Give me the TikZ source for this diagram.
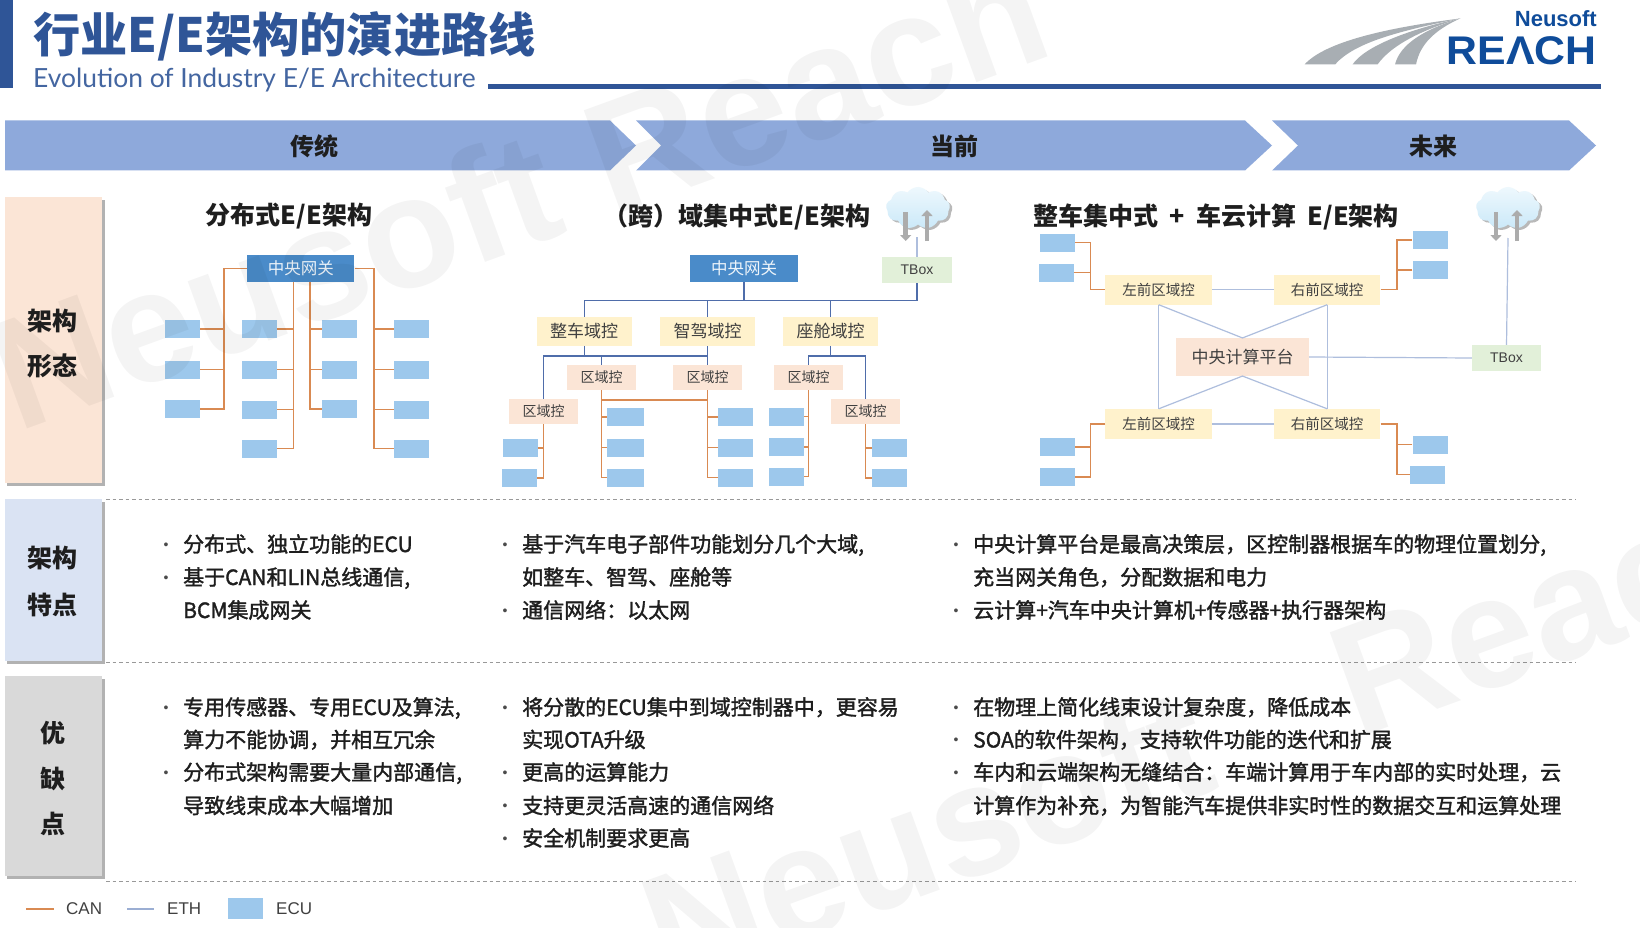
\documentclass[tikz,border=0pt]{standalone}
\usepackage{fontspec}
\usetikzlibrary{shapes.symbols,shadows,arrows.meta,calc}
\setmainfont{Noto Sans CJK SC}
\newfontfamily\bodyf[FakeBold=1.6]{Noto Sans CJK SC}
\newfontfamily\arialf{Liberation Sans}
\newfontfamily\latof{Lato}
\definecolor{navy}{HTML}{2F5597}
\definecolor{barblue}{HTML}{8EA9DB}
\definecolor{gwblue}{HTML}{4A8BC9}
\definecolor{ecublue}{HTML}{9DC8EC}
\definecolor{canc}{HTML}{D98A52}
\definecolor{ethd}{HTML}{4F6DAA}
\definecolor{ethl}{HTML}{AEBEDD}
\definecolor{domy}{HTML}{FFF2CC}
\definecolor{zonep}{HTML}{FBE5D6}
\definecolor{rowblue}{HTML}{DAE3F3}
\definecolor{tboxg}{HTML}{E2F0D9}
\definecolor{ink}{HTML}{1E1E1E}
\definecolor{logogray}{HTML}{A8AEB3}
\definecolor{logoblue}{HTML}{0F4C9A}
\definecolor{cloudc}{HTML}{CBE9F9}
\definecolor{cloudt}{HTML}{EEF8FD}
\newcommand\fs[1]{\fontsize{#1}{#1}\selectfont}
\tikzset{
  ecubox/.style={fill=ecublue,draw=none,minimum width=35,minimum height=18,inner sep=0},
  gwbox/.style={fill=gwblue,text=white!90!gwblue,minimum width=107,minimum height=26.5,inner sep=0,font=\fs{16.5}},
  dombox/.style={fill=domy,text=ink!85,minimum width=95,minimum height=28.7,inner sep=0,font=\fs{17}},
  zonebox/.style={fill=zonep,text=ink!85,minimum width=69,minimum height=25,inner sep=0,font=\fs{14}},
  lzbox/.style={fill=domy,text=ink!85,minimum width=106.5,minimum height=30,inner sep=0,font=\fs{14.5}},
  cpbox/.style={fill=zonep,text=ink!85,minimum width=133,minimum height=37.7,inner sep=0,font=\fs{17}},
  tboxn/.style={fill=tboxg,text=ink!85,minimum width=70,minimum height=26,inner sep=0,font=\arialf\fs{14}},
  can/.style={draw=canc,line width=1.5pt},
  ethdk/.style={draw=ethd,line width=1.4pt},
  ethlt/.style={draw=ethl,line width=1.2pt},
  rowbox/.style={minimum width=97.5,inner sep=0,drop shadow={shadow xshift=2.5pt,shadow yshift=-3pt,fill=gray,opacity=.6}},
  rowtxt/.style={text=ink,inner sep=0,font=\bfseries\fs{25}},
  coltitle/.style={text=ink,inner sep=0,font=\bfseries\fs{25}},
  phase/.style={text=ink,inner sep=0,font=\bfseries\fs{24}},
  bodytxt/.style={anchor=west,inner sep=0,text=ink,text height=17pt,text depth=5pt,font=\bodyf\fs{21}},
  dottxt/.style={inner sep=0,text=ink!80,font=\arialf\fs{14}},
  sep/.style={draw=gray!80,line width=1pt,dash pattern=on 3.5pt off 3pt},
  legtxt/.style={anchor=west,inner sep=0,text=ink!85,font=\arialf\fs{17}},
  cloudn/.style={cloud,cloud puffs=9,cloud puff arc=110,aspect=1.5,minimum width=64,minimum height=42,inner sep=0,draw=none,top color=cloudt,bottom color=cloudc,
     drop shadow={shadow xshift=2.5pt,shadow yshift=-2pt,fill=gray,opacity=.55}},
  cloudar/.style={draw=gray!65,line width=4.5pt,-{Triangle[length=6pt,width=11pt]}},
  wmtxt/.style={text=black,text opacity=.045,inner sep=0,font=\arialf\bfseries\fs{158}},
}
\newcommand\ecu[3]{\node[ecubox] (#1) at (#2,#3) {};}
\newcommand\bdot[3]{\node[dottxt] (#1) at (#2,#3) {•};}
\newcommand\bline[4]{\node[bodytxt] (#1) at (#2,#3) {#4};}
\begin{document}
\begin{tikzpicture}[x=1pt,y=-1pt]
\useasboundingbox (0,0) rectangle (1640,928);
\clip (0,0) rectangle (1640,928);
\fill[white] (0,0) rectangle (1640,928);
% header
\fill[navy] (0,0) rectangle (13,88);
\node[anchor=west,inner sep=0,text=navy,font=\bfseries\fs{47.2}] (title) at (33,36) {行业E/E架构的演进路线};
\node[anchor=west,inner sep=0,text=navy!90,font=\latof\fs{26.4}] (subtitle) at (33,80) {Evolution of Industry E/E Architecture};
\fill[navy] (488,84) rectangle (1601,89);
% logo
\fill[logogray] (1304.5,64.5) .. controls (1325,42) and (1385,28) .. (1460,18.5) .. controls (1400,31) and (1355,42) .. (1335,64.5) -- cycle;
\fill[logogray] (1352.5,64.5) .. controls (1365,46) and (1410,29) .. (1460,18.5) .. controls (1425,29) and (1392,44) .. (1377.5,64.5) -- cycle;
\fill[logogray] (1395,64.5) .. controls (1400,44) and (1425,29) .. (1460,18.5) .. controls (1435,30) and (1420,44) .. (1416,64.5) -- cycle;
\node[anchor=east,inner sep=0,text=logoblue,font=\arialf\bfseries\fs{22}] (neusoft) at (1597,19) {Neusoft};
\node[anchor=east,inner sep=0,text=logoblue,xscale=1.07,font=\arialf\bfseries\fs{40}] (reach) at (1597,51) {REΛCH};
% phase arrows
\fill[barblue] (5,120.5) -- (610,120.5) -- (636,145.5) -- (610,170.5) -- (5,170.5) -- cycle;
\fill[barblue] (636,120.5) -- (1245,120.5) -- (1272,145.5) -- (1245,170.5) -- (636,170.5) -- (661,145.5) -- cycle;
\fill[barblue] (1272,120.5) -- (1569,120.5) -- (1596,145.5) -- (1569,170.5) -- (1272,170.5) -- (1298,145.5) -- cycle;
\node[phase] (ph1) at (314,146) {传统};
\node[phase] (ph2) at (954,146) {当前};
\node[phase] (ph3) at (1433,146) {未来};
% row labels
\node[rowbox,fill=zonep,minimum height=285.5] (r1) at (53.7,340.2) {};
\node[rowbox,fill=rowblue,minimum height=162] (r2) at (53.7,580) {};
\node[rowbox,fill=gray!30,minimum height=200] (r3) at (53.7,776) {};
\node[rowtxt] (r1a) at (52.5,321) {架构};
\node[rowtxt] (r1b) at (52.5,366) {形态};
\node[rowtxt] (r2a) at (52.5,558.5) {架构};
\node[rowtxt] (r2b) at (52.5,604.5) {特点};
\node[rowtxt] (r3a) at (52.5,733) {优};
\node[rowtxt] (r3b) at (52.5,779) {缺};
\node[rowtxt] (r3c) at (52.5,824) {点};
% separators
\coordinate (s1a) at (106,499.5); \coordinate (s1b) at (1576,499.5);
\coordinate (s2a) at (106,662.5); \coordinate (s2b) at (1576,662.5);
\coordinate (s3a) at (106,881.5); \coordinate (s3b) at (1576,881.5);
\draw[sep] (s1a) -- (s1b); \draw[sep] (s2a) -- (s2b); \draw[sep] (s3a) -- (s3b);
% column titles
\node[coltitle] (t1) at (289,216.5) {分布式E/E架构};
\node[coltitle] (t2) at (737,216.5) {（跨）域集中式E/E架构};
\node[coltitle] (t3) at (1216,216.5) {整车集中式\ \ +\ \ 车云计算\ \ E/E架构};
% ---------- diagram 1
\node[gwbox] (g1) at (300.8,268.7) {中央网关};
\ecu{a1}{182.5}{329}\ecu{a2}{182.5}{369.5}\ecu{a3}{182.5}{409}
\ecu{b1}{259.5}{329}\ecu{b2}{259.5}{369.5}\ecu{b3}{259.5}{409.5}\ecu{b4}{259.5}{448.5}
\ecu{c1}{339.5}{329}\ecu{c2}{339.5}{369.5}\ecu{c3}{339.5}{409}
\ecu{d1}{411.5}{329}\ecu{d2}{411.5}{369.5}\ecu{d3}{411.5}{409.5}\ecu{d4}{411.5}{448.5}
\coordinate (bA) at (224,0); \coordinate (bB) at (293.3,0); \coordinate (bC) at (310,0); \coordinate (bD) at (374,0);
\draw[can] (g1.west) -- (g1.west -| bA) -- (a3.east -| bA) -- (a3.east);
\draw[can] (a1.east) -- (a1.east -| bA); \draw[can] (a2.east) -- (a2.east -| bA);
\draw[can] (g1.south -| bB) -- (b4.east -| bB) -- (b4.east);
\draw[can] (b1.east) -- (b1.east -| bB); \draw[can] (b2.east) -- (b2.east -| bB); \draw[can] (b3.east) -- (b3.east -| bB);
\draw[can] (g1.south -| bC) -- (c3.west -| bC) -- (c3.west);
\draw[can] (c1.west) -- (c1.west -| bC); \draw[can] (c2.west) -- (c2.west -| bC);
\draw[can] (g1.east) -- (g1.east -| bD) -- (d4.west -| bD) -- (d4.west);
\draw[can] (d1.west) -- (d1.west -| bD); \draw[can] (d2.west) -- (d2.west -| bD); \draw[can] (d3.west) -- (d3.west -| bD);
% ---------- diagram 2
\node[gwbox,minimum width=108,minimum height=27] (g2) at (744,268.2) {中央网关};
\node[tboxn] (tb2) at (917,270) {TBox};
\node[cloudn] (cl2) at (918,208) {};
\coordinate (c2f) at (917,237);
\draw[cloudar] (905.7,212) -- (905.7,241);
\draw[cloudar] (927,241) -- (927,210);
\node[dombox] (dm1) at (584.2,331.3) {整车域控};
\node[dombox] (dm2) at (707.5,331.3) {智驾域控};
\node[dombox] (dm3) at (830.5,331.3) {座舱域控};
\node[zonebox] (z1) at (543.5,411.5) {区域控};
\node[zonebox] (z2) at (601.5,377.5) {区域控};
\node[zonebox] (z3) at (707.5,377.5) {区域控};
\node[zonebox] (z4) at (808.5,377.5) {区域控};
\node[zonebox] (z5) at (865.5,411.5) {区域控};
\ecu{e1a}{520.2}{448}\ecu{e1b}{519.2}{478}
\node[ecubox,minimum width=37] (e2a) at (625.5,417) {};
\node[ecubox,minimum width=37] (e2b) at (625.5,447.5) {};
\node[ecubox,minimum width=37] (e2c) at (625.5,477.5) {};
\ecu{e3a}{735.2}{417}\ecu{e3b}{735.2}{447.5}\ecu{e3c}{735.2}{477.5}
\ecu{e4a}{786.4}{416.5}\ecu{e4b}{786.4}{447}\ecu{e4c}{786.4}{476.5}
\ecu{e5a}{889.3}{448}\ecu{e5b}{889.3}{478}
\coordinate (y1) at (0,300.3); \coordinate (y2) at (0,356); \coordinate (y3) at (0,400);
\draw[ethl,line width=1.2pt] (tb2.north) -- (c2f);
\draw[ethdk] (dm1.north) -- (dm1.north |- y1) -- (tb2.south |- y1) -- (tb2.south);
\draw[ethdk] (g2.south) -- (g2.south |- y1);
\draw[ethdk] (dm2.north) -- (dm2.north |- y1);
\draw[ethdk] (dm3.north) -- (dm3.north |- y1);
\draw[ethdk] (z1.north) -- (z1.north |- y2) -- (dm2.south |- y2) -- (dm2.south);
\draw[ethdk] (dm1.south) -- (dm1.south |- y2);
\draw[ethdk] (z2.north) -- (z2.north |- y2);
\draw[ethdk] (z3.north) -- (z3.north |- y2);
\draw[ethdk] (z4.north) -- (z4.north |- y2) -- (z5.north |- y2) -- (z5.north);
\draw[ethdk] (dm3.south) -- (dm3.south |- y2);
\draw[can] (z1.south) -- (z1.south |- e1b.east) -- (e1b.east);
\draw[can] (e1a.east) -- (e1a.east -| z1.south);
\draw[can] (z2.south) -- (z2.south |- e2c.west) -- (e2c.west);
\draw[can] (e2a.west) -- (e2a.west -| z2.south); \draw[can] (e2b.west) -- (e2b.west -| z2.south);
\draw[can] (z2.south |- y3) -- (z3.south |- y3);
\draw[can] (z3.south) -- (z3.south |- e3c.west) -- (e3c.west);
\draw[can] (e3a.west) -- (e3a.west -| z3.south); \draw[can] (e3b.west) -- (e3b.west -| z3.south);
\draw[can] (z4.south) -- (z4.south |- e4c.east) -- (e4c.east);
\draw[can] (e4a.east) -- (e4a.east -| z4.south); \draw[can] (e4b.east) -- (e4b.east -| z4.south);
\draw[can] (z5.south) -- (z5.south |- e5b.west) -- (e5b.west);
\draw[can] (e5a.west) -- (e5a.west -| z5.south);
% ---------- diagram 3
\node[lzbox] (tl) at (1158.7,289.5) {左前区域控};
\node[lzbox] (tr) at (1327.2,289.5) {右前区域控};
\node[lzbox] (bl) at (1158.7,424) {左前区域控};
\node[lzbox] (br) at (1327.2,424) {右前区域控};
\node[cpbox] (cp) at (1242.5,357) {中央计算平台};
\node[tboxn,minimum width=69] (tb3) at (1506.5,358) {TBox};
\node[cloudn] (cl3) at (1508,208) {};
\coordinate (c3f) at (1508,238);
\draw[cloudar] (1496,212) -- (1496,241);
\draw[cloudar] (1517,241) -- (1517,210);
\ecu{f1}{1057.4}{242.5}\ecu{f2}{1056}{272.5}
\ecu{f3}{1430}{240}\ecu{f4}{1430}{270}
\ecu{f5}{1057.4}{447}\ecu{f6}{1057.4}{477}
\ecu{f7}{1430}{444.5}\ecu{f8}{1427.5}{474.5}
\coordinate (xL) at (1090.7,0); \coordinate (xR) at (1397,0);
\draw[ethl,line width=1.2pt] (tb3.north) -- (c3f);
\draw[ethlt] (tl.east) -- (tr.west);
\draw[ethlt] (bl.east) -- (br.west);
\draw[ethlt] (tl.south) -- (bl.north);
\draw[ethlt] (tr.south) -- (br.north);
\draw[ethlt] (tl.south) -- (cp.north) -- (tr.south);
\draw[ethlt] (bl.north) -- (cp.south) -- (br.north);
\draw[ethlt] (cp.east) -- (tb3.west);
\draw[can] (f1.east) -- (f1.east -| xL) -- (tl.west -| xL) -- (tl.west);
\draw[can] (f2.east) -- (f2.east -| xL);
\draw[can] (tr.east) -- (tr.east -| xR) -- (f3.west -| xR) -- (f3.west);
\draw[can] (f4.west) -- (f4.west -| xR);
\draw[can] (bl.west) -- (bl.west -| xL) -- (f6.east -| xL) -- (f6.east);
\draw[can] (f5.east) -- (f5.east -| xL);
\draw[can] (br.east) -- (br.east -| xR) -- (f8.west -| xR) -- (f8.west);
\draw[can] (f7.west) -- (f7.west -| xR);
% ---------- text, row 2
\bdot{p1}{166}{546}\bline{l1}{183}{546}{分布式、独立功能的ECU}
\bdot{p2}{166}{579}\bline{l2}{183}{579}{基于CAN和LIN总线通信,}
\bline{l3}{183}{612}{BCM集成网关}
\bdot{p3}{505}{546}\bline{l4}{522}{546}{基于汽车电子部件功能划分几个大域,}
\bline{l5}{522}{579}{如整车、智驾、座舱等}
\bdot{p4}{505}{612}\bline{l6}{522}{612}{通信网络：以太网}
\bdot{p5}{956}{546}\bline{l7}{973}{546}{中央计算平台是最高决策层，区控制器根据车的物理位置划分,}
\bline{l8}{973}{579}{充当网关角色，分配数据和电力}
\bdot{p6}{956}{612}\bline{l9}{973}{612}{云计算+汽车中央计算机+传感器+执行器架构}
% ---------- text, row 3
\bdot{q1}{166}{709}\bline{m1}{183}{709}{专用传感器、专用ECU及算法,}
\bline{m2}{183}{741.5}{算力不能协调，并相互冗余}
\bdot{q2}{166}{774}\bline{m3}{183}{774}{分布式架构需要大量内部通信,}
\bline{m4}{183}{807.5}{导致线束成本大幅增加}
\bdot{q3}{505}{709}\bline{m5}{522}{709}{将分散的ECU集中到域控制器中，更容易}
\bline{m6}{522}{741.5}{实现OTA升级}
\bdot{q4}{505}{774}\bline{m7}{522}{774}{更高的运算能力}
\bdot{q5}{505}{807.5}\bline{m8}{522}{807.5}{支持更灵活高速的通信网络}
\bdot{q6}{505}{840}\bline{m9}{522}{840}{安全机制要求更高}
\bdot{q7}{956}{709}\bline{m10}{973}{709}{在物理上简化线束设计复杂度，降低成本}
\bdot{q8}{956}{741.5}\bline{m11}{973}{741.5}{SOA的软件架构，支持软件功能的迭代和扩展}
\bdot{q9}{956}{774}\bline{m12}{973}{774}{车内和云端架构无缝结合：车端计算用于车内部的实时处理，云}
\bline{m13}{973}{807.5}{计算作为补充，为智能汽车提供非实时性的数据交互和运算处理}
% legend
\coordinate (lc1) at (26,909); \coordinate (lc2) at (54,909);
\coordinate (le1) at (127,909); \coordinate (le2) at (154,909);
\draw[draw=canc,line width=1.2pt] (lc1) -- (lc2);
\draw[draw=ethl!80!ethd,line width=1.2pt] (le1) -- (le2);
\node[legtxt] (lt1) at (66,909) {CAN};
\node[legtxt] (lt2) at (167,909) {ETH};
\node[ecubox,minimum width=35,minimum height=21] (lb) at (245.5,908) {};
\node[legtxt] (lt3) at (276,909) {ECU};
% watermarks
\node[wmtxt,rotate=20] (wm1) at (518,190) {Neusoft Reach};
\node[wmtxt,rotate=20] (wm2) at (1217,729) {Neusoft\hspace{100pt} Reach};
\end{tikzpicture}
\end{document}
